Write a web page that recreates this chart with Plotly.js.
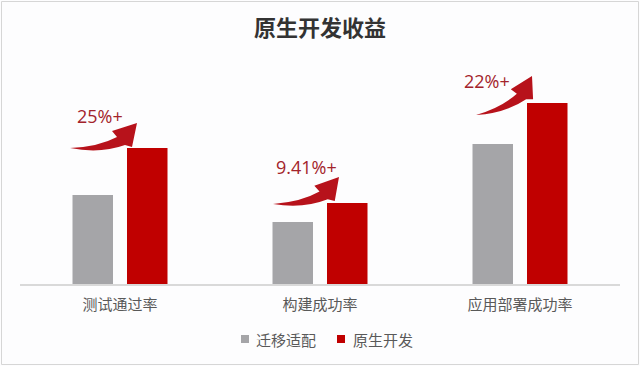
<!DOCTYPE html>
<html><head><meta charset="utf-8">
<script src="https://cdn.plot.ly/plotly-3.0.1.min.js"></script>
<style>html,body{margin:0;padding:0;background:#fff}</style>
</head><body><div id="chart" style="width:640px;height:366px"></div>
<script>
const categories = ['测试通过率', '构建成功率', '应用部署成功率'];
const seriesNames = ['迁移适配', '原生开发'];
const migrateValues = [89, 62, 140];
const nativeValues = [136, 81, 181];
const gainLabels = ['25%+', '9.41%+', '22%+'];
const seriesColors = ['#a5a5a8', '#c00000'];

const FONT = '"Noto Sans CJK SC", "Noto Sans", sans-serif';
const LABEL_FONT = '"Open Sans", "Noto Sans CJK SC", sans-serif';
const PLOT_L = 20, PLOT_W = 600, PLOT_BOTTOM = 284, PLOT_H = 224;
const PX_PER_CAT = PLOT_W / categories.length;
const px2paperX = px => (px - PLOT_L) / PLOT_W;
const px2paperY = py => (PLOT_BOTTOM - py) / PLOT_H;

const traces = [
  {type: 'bar', name: seriesNames[0], x: categories, y: migrateValues,
   marker: {color: seriesColors[0]}, hoverinfo: 'skip'},
  {type: 'bar', name: seriesNames[1], x: categories, y: nativeValues,
   marker: {color: seriesColors[1]}, hoverinfo: 'skip'}
];

// styling: arrow tail / tip and label centre, px offsets from (category centre, top of red bar)
const arrowStyle = [
  {tail: [-50, 0], tip: [17, -25], label: [-20, -32]},
  {tail: [-47, 1], tip: [19, -26], label: [-14, -36]},
  {tail: [-44, 12], tip: [12, -27], label: [-33, -22]}
];

// base swoosh (tail at (-50,0), tip at (17,-25)), transformed per arrow
const BASE = {T: [-50, 0], C1: [-22, -1], L1: [-3, -11], HL: [-8, -17],
              P: [17, -25], HR: [12, -1], R1: [5, -3], C2: [-20, 6]};
function arrowPath(i, top, st) {
  const v1 = [BASE.P[0] - BASE.T[0], BASE.P[1] - BASE.T[1]];
  const v2 = [st.tip[0] - st.tail[0], st.tip[1] - st.tail[1]];
  const d = v1[0] * v1[0] + v1[1] * v1[1];
  const a = (v2[0] * v1[0] + v2[1] * v1[1]) / d;
  const b = (v2[1] * v1[0] - v2[0] * v1[1]) / d;
  const tr = ([x, y]) => {
    const rx = x - BASE.T[0], ry = y - BASE.T[1];
    return [st.tail[0] + rx * a - ry * b, st.tail[1] + rx * b + ry * a];
  };
  const f = p => { const [dx, dy] = tr(p);
    return (i + dx / PX_PER_CAT).toFixed(4) + ',' + (top - dy).toFixed(2); };
  const B = BASE;
  return `M${f(B.T)} Q${f(B.C1)} ${f(B.L1)} L${f(B.HL)} L${f(B.P)} L${f(B.HR)} L${f(B.R1)} Q${f(B.C2)} ${f(B.T)} Z`;
}

const shapes = [];
const annotations = [];
nativeValues.forEach((v, i) => {
  const st = arrowStyle[i];
  shapes.push({type: 'path', xref: 'x', yref: 'y', path: arrowPath(i, v, st),
    fillcolor: '#b7121b', line: {width: 0}});
  annotations.push({xref: 'x', yref: 'y', x: i + st.label[0] / PX_PER_CAT, y: v - st.label[1],
    text: gainLabels[i], showarrow: false, xanchor: 'center', yanchor: 'middle',
    font: {family: LABEL_FONT, size: 18, color: '#a3232b'}});
});

// frame
shapes.push({type: 'rect', xref: 'paper', yref: 'paper', layer: 'below',
  x0: px2paperX(1.5), x1: px2paperX(638.5), y0: px2paperY(364.5), y1: px2paperY(1.5),
  line: {color: '#d6d6d6', width: 1}, fillcolor: 'rgba(0,0,0,0)'});

// custom legend
const legendItems = [{sq: 245, tx: 254}, {sq: 341, tx: 351}];
legendItems.forEach((it, k) => {
  const cy = 339;
  shapes.push({type: 'rect', xref: 'paper', yref: 'paper',
    x0: px2paperX(it.sq - 4), x1: px2paperX(it.sq + 4),
    y0: px2paperY(cy + 4), y1: px2paperY(cy - 4),
    fillcolor: seriesColors[k], line: {width: 0}});
  annotations.push({xref: 'paper', yref: 'paper', x: px2paperX(it.tx), y: px2paperY(cy),
    xanchor: 'left', yanchor: 'middle', showarrow: false, text: seriesNames[k],
    font: {family: FONT, size: 15, color: '#595959'}});
});

const layout = {
  width: 640, height: 366,
  margin: {l: PLOT_L, r: 640 - PLOT_L - PLOT_W, t: PLOT_BOTTOM - PLOT_H, b: 366 - PLOT_BOTTOM},
  paper_bgcolor: '#fdfdfe', plot_bgcolor: 'rgba(0,0,0,0)',
  title: {text: '原生开发收益', x: 0.5, xanchor: 'center', xref: 'container',
    y: 1 - 28 / 366, yanchor: 'middle', yref: 'container',
    font: {family: FONT, size: 22, color: '#333333', weight: 700}},
  barmode: 'group', bargap: 0.455, bargroupgap: 0.257,
  showlegend: false,
  xaxis: {type: 'category', range: [-0.5, 2.5], showline: true, linecolor: '#d9d9d9',
    linewidth: 2, showgrid: false, zeroline: false, ticks: '', ticklabelstandoff: 6,
    tickfont: {family: FONT, size: 15, color: '#595959'}, fixedrange: true},
  yaxis: {visible: false, range: [0, PLOT_H], fixedrange: true},
  shapes: shapes, annotations: annotations
};

Plotly.newPlot('chart', traces, layout, {displayModeBar: false, staticPlot: true});
</script>
</body></html>
